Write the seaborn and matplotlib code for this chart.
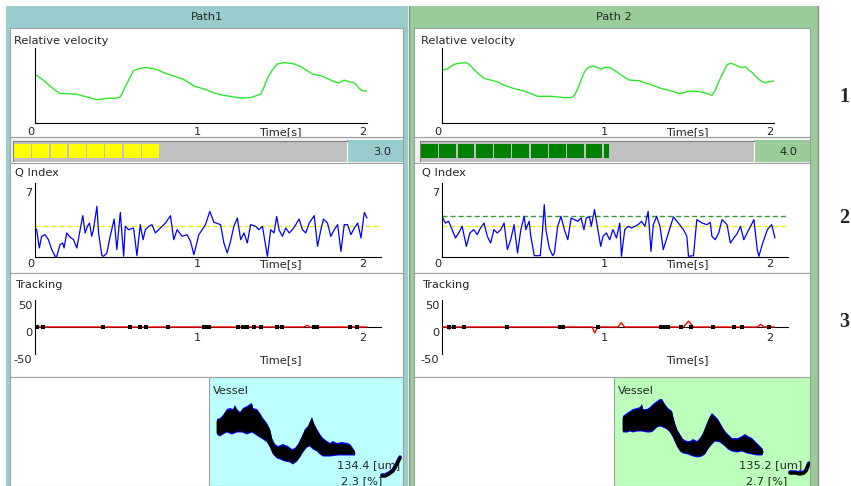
import numpy as np
import pandas as pd
import matplotlib
matplotlib.use("Agg")
import matplotlib.pyplot as plt
import matplotlib.transforms as mtransforms
from matplotlib.patches import Rectangle
import seaborn as sns

# ---------------- data ----------------
path_names = ["Path1", "Path 2"]
row_labels = ["1", "2", "3"]
time_ticks = [0, 1, 2]
time_label = "Time[s]"

vel1_t = [0.000, 0.050, 0.101, 0.151, 0.191, 0.252, 0.312, 0.373, 0.433, 0.483, 0.514, 0.544,
          0.574, 0.594, 0.634, 0.675, 0.725, 0.775, 0.836, 0.896, 0.937, 0.957, 1.017, 1.078,
          1.138, 1.198, 1.239, 1.299, 1.339, 1.360, 1.380, 1.400, 1.430, 1.460, 1.501, 1.561,
          1.601, 1.642, 1.672, 1.722, 1.762, 1.803, 1.833, 1.863, 1.893, 1.924, 1.954, 1.974, 2.000]
vel1_v = [0.653, 0.572, 0.473, 0.392, 0.392, 0.383, 0.347, 0.311, 0.329, 0.329, 0.347, 0.482,
          0.617, 0.698, 0.730, 0.739, 0.721, 0.671, 0.626, 0.581, 0.527, 0.491, 0.455, 0.401,
          0.369, 0.347, 0.333, 0.338, 0.369, 0.383, 0.482, 0.595, 0.707, 0.788, 0.806, 0.788,
          0.752, 0.694, 0.653, 0.631, 0.595, 0.550, 0.536, 0.572, 0.550, 0.536, 0.459, 0.428, 0.428]

vel2_t = [0.000, 0.030, 0.051, 0.081, 0.111, 0.141, 0.162, 0.192, 0.222, 0.253, 0.293, 0.333,
          0.374, 0.414, 0.455, 0.495, 0.535, 0.576, 0.657, 0.737, 0.778, 0.798, 0.818, 0.838,
          0.859, 0.879, 0.909, 0.939, 0.960, 0.980, 1.010, 1.030, 1.051, 1.071, 1.101, 1.131,
          1.192, 1.222, 1.253, 1.283, 1.323, 1.364, 1.404, 1.424, 1.455, 1.485, 1.545, 1.586,
          1.626, 1.646, 1.667, 1.697, 1.717, 1.737, 1.758, 1.788, 1.808, 1.828, 1.848, 1.869,
          1.889, 1.909, 1.929, 1.949, 1.970, 2.000]
vel2_v = [0.707, 0.716, 0.752, 0.788, 0.797, 0.806, 0.784, 0.716, 0.653, 0.595, 0.572, 0.550,
          0.505, 0.473, 0.446, 0.428, 0.392, 0.356, 0.356, 0.338, 0.338, 0.369, 0.459, 0.572,
          0.685, 0.739, 0.761, 0.739, 0.716, 0.743, 0.739, 0.716, 0.685, 0.653, 0.608, 0.572,
          0.563, 0.536, 0.518, 0.491, 0.459, 0.437, 0.414, 0.392, 0.401, 0.423, 0.423, 0.401,
          0.369, 0.437, 0.550, 0.685, 0.775, 0.797, 0.784, 0.752, 0.739, 0.752, 0.707, 0.671,
          0.626, 0.581, 0.550, 0.536, 0.550, 0.559]

q1_t = [0.000, 0.010, 0.026, 0.040, 0.060, 0.081, 0.101, 0.121, 0.131, 0.151, 0.167, 0.175,
        0.191, 0.211, 0.232, 0.252, 0.272, 0.288, 0.302, 0.316, 0.328, 0.342, 0.352, 0.373,
        0.383, 0.403, 0.413, 0.433, 0.453, 0.477, 0.493, 0.514, 0.534, 0.544, 0.564, 0.594,
        0.614, 0.634, 0.651, 0.665, 0.685, 0.705, 0.725, 0.755, 0.786, 0.816, 0.836, 0.856,
        0.886, 0.916, 0.937, 0.957, 0.987, 1.007, 1.027, 1.053, 1.078, 1.118, 1.138, 1.158,
        1.178, 1.198, 1.219, 1.239, 1.259, 1.279, 1.299, 1.329, 1.349, 1.370, 1.400, 1.420,
        1.440, 1.456, 1.470, 1.490, 1.511, 1.531, 1.551, 1.571, 1.591, 1.611, 1.631, 1.652,
        1.682, 1.702, 1.722, 1.738, 1.762, 1.782, 1.803, 1.823, 1.843, 1.863, 1.883, 1.903,
        1.924, 1.944, 1.964, 1.984, 2.000]
q1_v = [2.83, 2.67, 0.88, 2.02, 2.18, 1.69, 0.72, 0.07, 0.07, 1.21, 1.37, 0.88,
        2.35, 1.95, 1.69, 0.88, 2.67, 4.04, 2.35, 3.00, 3.32, 2.02, 2.67, 4.95,
        2.35, 0.13, 0.07, 0.39, 2.02, 3.71, 0.72, 4.36, 0.07, 3.00, 2.67, 2.83,
        0.13, 3.16, 1.69, 2.67, 3.00, 3.16, 2.35, 2.83, 3.32, 4.04, 1.69, 2.67,
        2.02, 2.18, 1.53, 0.23, 2.18, 2.67, 3.16, 4.46, 3.39, 3.16, 1.37, 0.39,
        1.53, 3.00, 3.81, 1.69, 2.35, 1.37, 3.16, 3.00, 2.67, 3.00, 0.07, 2.67,
        2.35, 3.97, 2.67, 2.02, 2.83, 2.35, 2.67, 3.16, 3.71, 2.67, 2.35, 3.32,
        4.04, 1.04, 2.67, 3.71, 3.32, 2.02, 2.67, 3.16, 0.55, 3.16, 3.16, 2.18,
        2.83, 3.32, 1.86, 4.36, 3.81]

q2_t = [0.000, 0.020, 0.040, 0.061, 0.081, 0.101, 0.121, 0.147, 0.168, 0.192, 0.212, 0.232,
        0.253, 0.273, 0.293, 0.313, 0.333, 0.354, 0.374, 0.394, 0.414, 0.434, 0.455, 0.475,
        0.495, 0.505, 0.525, 0.535, 0.556, 0.592, 0.606, 0.616, 0.626, 0.646, 0.667, 0.677,
        0.697, 0.717, 0.737, 0.758, 0.778, 0.798, 0.818, 0.838, 0.855, 0.869, 0.889, 0.899,
        0.919, 0.939, 0.956, 0.970, 0.990, 1.010, 1.030, 1.051, 1.071, 1.081, 1.101, 1.121,
        1.141, 1.162, 1.182, 1.202, 1.222, 1.242, 1.259, 1.273, 1.293, 1.313, 1.333, 1.364,
        1.394, 1.424, 1.455, 1.475, 1.485, 1.515, 1.535, 1.566, 1.596, 1.616, 1.626, 1.646,
        1.667, 1.687, 1.717, 1.737, 1.758, 1.778, 1.798, 1.818, 1.838, 1.859, 1.879, 1.899,
        1.909, 1.929, 1.960, 1.986, 2.006]
q2_v = [3.97, 3.32, 3.49, 2.67, 1.86, 2.35, 3.00, 1.04, 2.35, 2.67, 2.18, 2.83,
        3.32, 2.02, 1.37, 2.67, 2.35, 2.67, 3.32, 0.72, 1.69, 3.16, 0.39, 2.67,
        3.97, 2.67, 3.49, 2.02, 0.13, 0.13, 2.67, 5.11, 2.67, 0.88, 0.13, 0.39,
        3.00, 3.97, 2.67, 1.69, 3.81, 3.65, 3.49, 3.81, 2.67, 3.81, 3.91, 3.00,
        4.63, 2.67, 1.04, 2.02, 2.35, 1.69, 2.67, 1.86, 3.32, 0.07, 2.67, 3.00,
        2.83, 3.00, 3.16, 3.49, 3.00, 4.46, 0.55, 3.16, 3.97, 3.00, 0.72, 2.35,
        3.91, 3.32, 2.67, 2.02, 0.07, 0.13, 3.65, 3.32, 3.16, 3.39, 2.02, 1.69,
        2.35, 3.65, 3.16, 1.37, 1.86, 2.28, 3.00, 1.69, 2.35, 3.00, 3.65, 0.72,
        0.07, 1.21, 2.67, 3.16, 1.86]

q_value = [3.0, 4.0]
q_threshold = 3.0
q_max_tick = [7]
bar_segments = [8.0, 10.3]

track1_t = [0.00, 1.62, 1.64, 1.66, 1.68, 1.70, 2.00]
track1_v = [0, 0, 3, -1, 2, 0, 0]
track1_marks = [0.01, 0.05, 0.41, 0.57, 0.63, 0.67, 0.80, 1.02, 1.04, 1.05, 1.22, 1.25,
                1.28, 1.32, 1.36, 1.46, 1.49, 1.68, 1.70, 1.90, 1.94]
track2_t = [0.00, 0.03, 0.045, 0.06, 0.905, 0.92, 0.935, 0.945, 1.06, 1.08, 1.10,
            1.455, 1.485, 1.515, 1.90, 1.92, 1.94, 2.00]
track2_v = [0, 0, -4, 0, 0, -11, -2, 0, 0, 8, 0, 0, 11, 0, 0, 5, 0, 0]
track2_marks = [0.04, 0.07, 0.13, 0.39, 0.71, 0.72, 0.73, 0.94, 1.32, 1.33, 1.34, 1.36,
                1.44, 1.50, 1.63, 1.76, 1.81, 1.97]
track_ticks = [50, 0, -50]

vessel1_top_x = [0, 3, 6, 10, 13, 16, 18, 20, 23, 26, 30, 33, 35, 36, 40, 43, 46, 50, 53, 55,
                 58, 61, 66, 71, 75, 78, 81, 85, 88, 91, 94, 95, 97, 100, 103, 106, 110, 113,
                 116, 120, 125, 130, 133, 136, 138]
vessel1_top_v = [65, 66, 69, 75, 76, 75, 79, 75, 72, 76, 78, 80, 81, 76, 75, 71, 66, 61, 55, 46,
                 40, 38, 40, 38, 35, 36, 40, 48, 55, 58, 65, 67, 61, 55, 50, 46, 43, 41,
                 43, 41, 42, 41, 40, 36, 33]
vessel1_bot_x = [0, 3, 6, 10, 15, 20, 25, 30, 35, 38, 41, 46, 50, 53, 56, 60, 63, 68, 73, 76,
                 80, 83, 86, 90, 93, 96, 100, 103, 106, 113, 121, 128, 135, 138]
vessel1_bot_v = [53, 51, 53, 55, 53, 55, 55, 53, 55, 53, 51, 48, 45, 40, 33, 29, 28, 26, 25, 23,
                 26, 30, 35, 40, 41, 38, 36, 33, 31, 31, 32, 32, 32, 32]
vessel1_tail_x = [165, 168, 172, 176, 179, 181, 183]
vessel1_tail_v = [10, 10, 12, 15, 20, 24, 28]

vessel2_top_x = [0, 4, 7, 10, 14, 17, 19, 20, 24, 27, 30, 34, 37, 39, 42, 45, 49, 50, 52, 54,
                 57, 60, 64, 67, 70, 74, 77, 80, 84, 87, 89, 92, 95, 99, 102, 105, 109, 112,
                 115, 119, 122, 125, 129, 132, 135, 139, 140]
vessel2_top_v = [68, 71, 73, 75, 76, 77, 80, 75, 75, 77, 80, 83, 85, 85, 80, 76, 73, 68, 61, 55,
                 50, 45, 43, 43, 45, 43, 46, 51, 61, 68, 71, 68, 65, 58, 53, 50, 46, 46,
                 46, 48, 50, 48, 46, 43, 40, 36, 35]
vessel2_bot_x = [0, 4, 7, 10, 14, 19, 24, 27, 30, 34, 37, 40, 44, 47, 50, 54, 57, 60, 65, 70,
                 75, 79, 82, 85, 89, 92, 97, 102, 105, 109, 114, 119, 124, 129, 134, 139, 140]
vessel2_bot_v = [55, 55, 56, 55, 56, 56, 55, 55, 56, 60, 61, 60, 58, 55, 50, 41, 36, 34, 33, 31,
                 30, 31, 33, 38, 43, 46, 45, 41, 38, 36, 35, 36, 34, 33, 32, 32, 33]
vessel2_tail_x = [167, 172, 177, 181, 183, 185, 186]
vessel2_tail_v = [13, 13, 12, 13, 15, 20, 22]

vessel_diam = ["134.4 [um]", "135.2 [um]"]
vessel_pct = ["2.3 [%]", "2.7 [%]"]

vel_t = [vel1_t, vel2_t]; vel_v = [vel1_v, vel2_v]
q_t = [q1_t, q2_t]; q_v = [q1_v, q2_v]
tr_t = [track1_t, track2_t]; tr_v = [track1_v, track2_v]
tr_marks = [track1_marks, track2_marks]
ves_top = [(vessel1_top_x, vessel1_top_v), (vessel2_top_x, vessel2_top_v)]
ves_bot = [(vessel1_bot_x, vessel1_bot_v), (vessel2_bot_x, vessel2_bot_v)]
ves_tail = [(vessel1_tail_x, vessel1_tail_v), (vessel2_tail_x, vessel2_tail_v)]

# ---------------- style / layout ----------------
FS = 8.2
SEP = '#A0A0A0'
sns.set_theme(style="white")
plt.rcParams['font.family'] = ['DejaVu Sans']
plt.rcParams['font.size'] = FS

W, H = 851, 486
fig = plt.figure(figsize=(W / 100, H / 100), dpi=100, facecolor='white')

geo = [
    dict(outer=(6, 408), inner=(10, 403), dx=0, frame='#99CCCC', ves_bg='#BBFFFF',
         bar='#FFFF00', qline='#EEEE00', ves=(209, 403), ves_xlim=(-8, 186),
         diam_x=400, pct_x=382),
    dict(outer=(410, 818), inner=(414, 810), dx=407, frame='#99CC99', ves_bg='#BBFFBB',
         bar='#008000', qline='#339933', ves=(614, 810), ves_xlim=(-9, 187),
         diam_x=802, pct_x=787),
]
XW = 2 * 346 / 332  # width of Q/tracking axes in seconds


def px_axes(x0, y0, x1, y1):
    return fig.add_axes([x0 / W, 1 - y1 / H, (x1 - x0) / W, (y1 - y0) / H])


def px_frame(x0, y0, x1, y1, face='white', border=True):
    ax = px_axes(x0, y0, x1, y1)
    ax.set_xlim(x0, x1)
    ax.set_ylim(y1, y0)
    ax.set_facecolor(face)
    ax.set_xticks([])
    ax.set_yticks([])
    for s in ax.spines.values():
        s.set_visible(border)
        s.set_color(SEP)
        s.set_linewidth(0.8)
    return ax


def data_axes(x0, y0, x1, y1):
    ax = px_axes(x0, y0, x1, y1)
    ax.patch.set_visible(False)
    ax.spines['top'].set_visible(False)
    ax.spines['right'].set_visible(False)
    for s in ('left', 'bottom'):
        ax.spines[s].set_color('black')
        ax.spines[s].set_linewidth(0.8)
    return ax


def shift(labels, dx, dy):
    off = mtransforms.ScaledTranslation(dx / 100, -dy / 100, fig.dpi_scale_trans)
    for lab in labels:
        lab.set_transform(lab.get_transform() + off)


# background, frames, headers
bg = px_frame(0, 0, W, H, border=False)
bg.patch.set_visible(False)
for g, name in zip(geo, path_names):
    o0, o1 = g['outer']
    bg.add_patch(Rectangle((o0, 6), o1 - o0, H - 6, facecolor=g['frame'], edgecolor='none'))
    bg.text((o0 + o1) / 2, 17.5, name, ha='center', va='center', fontsize=FS)
bg.plot([409, 409], [6, H], color='#8C8C8C', lw=1.0)
bg.plot([818, 818], [6, H], color='#8C8C8C', lw=1.0)
for lab, y in zip(row_labels, [97, 218, 322]):
    bg.text(844, y, lab, ha='center', va='center', fontsize=14.5, fontweight='bold',
            family=['Liberation Serif', 'DejaVu Serif'])

for k, g in enumerate(geo):
    dx = g['dx']
    i0, i1 = g['inner']

    # ---- relative velocity ----
    r = px_frame(i0, 28, i1, 137)
    r.text(14 + dx, 41, "Relative velocity", ha='left', va='center', fontsize=FS)
    r.text(280 + dx, 127, time_label, ha='center', va='top', fontsize=FS)
    ax = data_axes(35 + dx, 48, 367 + dx, 123)
    df = pd.DataFrame({'t': vel_t[k], 'v': vel_v[k]})
    sns.lineplot(data=df, x='t', y='v', ax=ax, color='#2EE82E', linewidth=1.0,
                 sort=False, estimator=None)
    ax.set_xlim(0, 2)
    ax.set_ylim(0, 1)
    ax.set_xlabel('')
    ax.set_ylabel('')
    ax.set_yticks([])
    ax.set_xticks(time_ticks)
    ax.set_xticklabels([str(v) for v in time_ticks])
    ax.tick_params(length=0, labelsize=FS, pad=2.8)
    shift(ax.get_xticklabels(), -4, 0)

    # ---- quality bar ----
    b = px_frame(i0, 137, i1, 163, face='#F3F3F3')
    b.add_patch(Rectangle((347 + dx, 140), i1 - (347 + dx), 22, facecolor=g['frame'],
                          edgecolor='none'))
    b.text(391 + dx, 151.5, f"{q_value[k]:.1f}", ha='right', va='center', fontsize=FS)
    gb = px_axes(13 + dx, 141, 347 + dx, 162)
    gb.set_facecolor('#C0C0C0')
    n_full = int(bar_segments[k])
    frac = bar_segments[k] - n_full
    xs = [i + 0.05 for i in range(n_full)] + ([n_full + 0.05] if frac > 0 else [])
    ws = [0.92] * n_full + ([frac] if frac > 0 else [])
    gb.bar(xs, [0.68] * len(xs), width=ws, bottom=0.18, align='edge', color=g['bar'],
           edgecolor='none')
    gb.set_xlim(0, 18.25)
    gb.set_ylim(0, 1)
    gb.set_xticks([])
    gb.set_yticks([])
    for s in ('top', 'left'):
        gb.spines[s].set_color('#808080')
    for s in ('bottom', 'right'):
        gb.spines[s].set_color('white')
    for s in gb.spines.values():
        s.set_linewidth(0.8)

    # ---- Q index ----
    q = px_frame(i0, 163, i1, 273)
    q.text(15 + dx, 173, "Q Index", ha='left', va='center', fontsize=FS)
    q.text(280 + dx, 259, time_label, ha='center', va='top', fontsize=FS)
    ax = data_axes(35 + dx, 183, 381 + dx, 257)
    ax.axhline(q_threshold, color='#EEEE00', lw=1.0, ls=(0, (3.6, 2.2)), zorder=1)
    if q_value[k] != q_threshold:
        ax.axhline(q_value[k], color=g['qline'], lw=1.0, ls=(0, (3.6, 2.2)), zorder=1)
    df = pd.DataFrame({'t': q_t[k], 'v': q_v[k]})
    sns.lineplot(data=df, x='t', y='v', ax=ax, color='#0000FF', linewidth=0.9,
                 sort=False, estimator=None)
    ax.set_xlim(0, XW)
    ax.set_ylim(0, 7.23)
    ax.set_xlabel('')
    ax.set_ylabel('')
    ax.set_xticks(time_ticks)
    ax.set_xticklabels([str(v) for v in time_ticks])
    ax.set_yticks(q_max_tick)
    ax.set_yticklabels([str(v) for v in q_max_tick])
    ax.tick_params(length=0, labelsize=FS)
    ax.tick_params(axis='x', pad=1.2)
    ax.tick_params(axis='y', pad=1.7)
    shift(ax.get_xticklabels(), -4, 0)
    shift(ax.get_yticklabels(), 0, 6.5)

    # ---- tracking ----
    tr = px_frame(i0, 273, i1, 377)
    tr.text(15 + dx, 285, "Tracking", ha='left', va='center', fontsize=FS)
    tr.text(280 + dx, 355, time_label, ha='center', va='top', fontsize=FS)
    ax = data_axes(35 + dx, 300, 381 + dx, 354)
    ax.spines['bottom'].set_position(('data', 0))
    df = pd.DataFrame({'t': tr_t[k], 'v': tr_v[k]})
    sns.lineplot(data=df, x='t', y='v', ax=ax, color='#FF0000', linewidth=1.0,
                 sort=False, estimator=None, zorder=3)
    dm = pd.DataFrame({'t': tr_marks[k], 'v': [0] * len(tr_marks[k])})
    sns.scatterplot(data=dm, x='t', y='v', ax=ax, color='black', marker='s', s=8,
                    linewidth=0, zorder=4)
    ax.set_xlim(0, XW)
    ax.set_ylim(-50, 50)
    ax.set_xlabel('')
    ax.set_ylabel('')
    ax.set_xticks(time_ticks[1:])
    ax.set_xticklabels([str(v) for v in time_ticks[1:]])
    ax.set_yticks(track_ticks)
    ax.set_yticklabels([str(v) for v in track_ticks])
    ax.tick_params(length=0, labelsize=FS)
    ax.tick_params(axis='x', pad=4)
    ax.tick_params(axis='y', pad=1.8)
    shift(ax.get_xticklabels(), -4, 0)
    shift(ax.get_yticklabels(), 0, 5)

    # ---- vessel ----
    v0, v1 = g['ves']
    vr = px_frame(i0, 377, i1, H)
    vr.add_patch(Rectangle((v0, 377), v1 - v0, H - 377, facecolor=g['ves_bg'],
                           edgecolor=SEP, lw=0.8))
    vr.text(v0 + 4, 391, "Vessel", ha='left', va='center', fontsize=FS)
    vr.text(g['diam_x'], 465, vessel_diam[k], ha='right', va='center', fontsize=FS)
    vr.text(g['pct_x'], 481, vessel_pct[k], ha='right', va='center', fontsize=FS)
    va = px_axes(v0, 378, v1, H)
    va.axis('off')
    tx, tv = ves_top[k]
    bx, bv = ves_bot[k]
    va.fill(list(tx) + list(bx)[::-1], [v + 2 for v in tv] + [v - 1.5 for v in bv][::-1],
            color='#0000FF', lw=0)
    va.fill(list(tx) + list(bx)[::-1], list(tv) + list(bv)[::-1], color='black', lw=0.6)
    lx, lv = ves_tail[k]
    va.plot(lx, [v + 1 for v in lv], color='#0000FF', lw=2.5, solid_capstyle='round')
    va.plot(lx, lv, color='black', lw=2.5, solid_capstyle='round')
    va.set_xlim(*g['ves_xlim'])
    va.set_ylim(0, 108)

fig.savefig("out.png", dpi=100, facecolor='white')
